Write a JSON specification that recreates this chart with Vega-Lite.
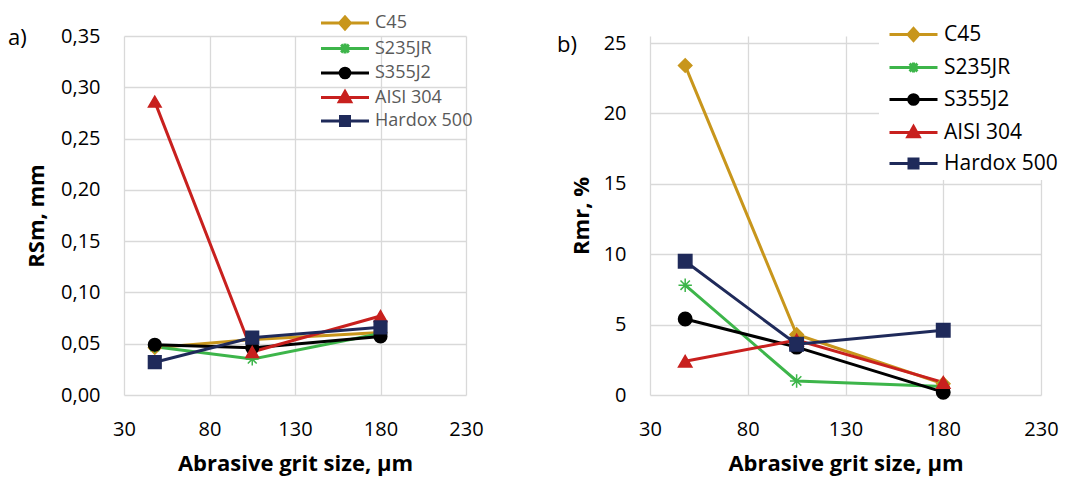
{
  "$schema": "https://vega.github.io/schema/vega-lite/v6.json",
  "background": "white",
  "padding": {"left": 8, "top": 14, "right": 0, "bottom": 3},
  "config": {
    "font": "Open Sans",
    "view": {"stroke": null},
    "axis": {"domain": false, "ticks": false, "gridColor": "#d9d9d9", "gridWidth": 1.3, "labelColor": "#000000", "labelFontSize": 20, "titleFontSize": 22, "titleFontWeight": "bold", "titleColor": "#000000", "labelFont": "Open Sans", "titleFont": "Open Sans"},
    "axisX": {"labelFlush": false},
    "title": {"fontSize": 22, "fontWeight": "normal", "color": "#000000", "font": "Open Sans"}
  },
  "datasets": {
    "rsm": [
      {"material": "C45", "grit": 48, "value": 0.046},
      {"material": "C45", "grit": 105, "value": 0.054},
      {"material": "C45", "grit": 180, "value": 0.061},
      {"material": "S235JR", "grit": 48, "value": 0.047},
      {"material": "S235JR", "grit": 105, "value": 0.035},
      {"material": "S235JR", "grit": 180, "value": 0.060},
      {"material": "S355J2", "grit": 48, "value": 0.049},
      {"material": "S355J2", "grit": 105, "value": 0.046},
      {"material": "S355J2", "grit": 180, "value": 0.057},
      {"material": "AISI 304", "grit": 48, "value": 0.286},
      {"material": "AISI 304", "grit": 105, "value": 0.042},
      {"material": "AISI 304", "grit": 180, "value": 0.077},
      {"material": "Hardox 500", "grit": 48, "value": 0.032},
      {"material": "Hardox 500", "grit": 105, "value": 0.056},
      {"material": "Hardox 500", "grit": 180, "value": 0.066}
    ],
    "rmr": [
      {"material": "C45", "grit": 48, "value": 23.4},
      {"material": "C45", "grit": 105, "value": 4.3},
      {"material": "C45", "grit": 180, "value": 0.8},
      {"material": "S235JR", "grit": 48, "value": 7.8},
      {"material": "S235JR", "grit": 105, "value": 1.0},
      {"material": "S235JR", "grit": 180, "value": 0.6},
      {"material": "S355J2", "grit": 48, "value": 5.4},
      {"material": "S355J2", "grit": 105, "value": 3.4},
      {"material": "S355J2", "grit": 180, "value": 0.2},
      {"material": "AISI 304", "grit": 48, "value": 2.4},
      {"material": "AISI 304", "grit": 105, "value": 3.9},
      {"material": "AISI 304", "grit": 180, "value": 0.9},
      {"material": "Hardox 500", "grit": 48, "value": 9.5},
      {"material": "Hardox 500", "grit": 105, "value": 3.6},
      {"material": "Hardox 500", "grit": 180, "value": 4.6}
    ]
  },
  "spacing": 73,
  "resolve": {"scale": {"color": "independent", "shape": "independent", "stroke": "independent"}},
  "hconcat": [
    {
      "width": 342,
      "height": 359,
      "title": {"text": "a)", "anchor": "start", "frame": "group", "dx": -116, "dy": 40},
      "data": {"name": "rsm"},
      "encoding": {
        "x": {"field": "grit", "type": "quantitative", "scale": {"domain": [30, 230], "nice": false}, "axis": {"values": [30, 80, 130, 180, 230], "title": "Abrasive grit size, µm", "labelPadding": 24, "titlePadding": 14}},
        "y": {"field": "value", "type": "quantitative", "scale": {"domain": [0, 0.35], "nice": false}, "axis": {"values": [0, 0.05, 0.1, 0.15, 0.2, 0.25, 0.3, 0.35], "labelExpr": "replace(format(datum.value, '.2f'), '.', ',')", "title": "RSm, mm", "labelPadding": 24, "titlePadding": 12}}
      },
      "resolve": {"scale": {"color": "independent", "shape": "independent", "stroke": "independent"}},
      "layer": [
        {"mark": {"type": "line", "strokeWidth": 3},
          "encoding": {"color": {"field": "material", "type": "nominal", "scale": {"domain": ["C45", "S235JR", "S355J2", "AISI 304", "Hardox 500"], "range": ["#C8961C", "#3DB54A", "#000000", "#C8201E", "#1F2A5A"]}, "legend": null}}},
        {"mark": {"type": "point", "filled": true, "opacity": 1, "strokeWidth": 1.5, "size": 160},
          "encoding": {
            "shape": {"field": "material", "type": "nominal", "scale": {"domain": ["C45", "S235JR", "S355J2", "AISI 304", "Hardox 500"], "range": ["diamond", "M-1,0L1,0M0,-1L0,1M-0.7,-0.7L0.7,0.7M-0.7,0.7L0.7,-0.7", "circle", "triangle-up", "square"]}, "legend": null},
            "stroke": {"field": "material", "type": "nominal", "scale": {"domain": ["C45", "S235JR", "S355J2", "AISI 304", "Hardox 500"], "range": ["#C8961C", "#3DB54A", "#000000", "#C8201E", "#1F2A5A"]}, "legend": null},
            "color": {"field": "material", "type": "nominal", "scale": {"domain": ["C45", "S235JR", "S355J2", "AISI 304", "Hardox 500"], "range": ["#C8961C", "#3DB54A", "#000000", "#C8201E", "#1F2A5A"]}, "legend": null}
          }},
        {"mark": {"type": "point", "filled": true, "opacity": 0, "strokeWidth": 3, "size": 144},
          "encoding": {
            "shape": {"field": "material", "type": "nominal", "scale": {"domain": ["C45", "S235JR", "S355J2", "AISI 304", "Hardox 500"], "range": ["M-1,0L7,0M3,-1L3.9,0L3,1L2.1,0Z", "M-1,0L7,0M3,-0.85L3,0.85M2.35,-0.65L3.65,0.65M2.35,0.65L3.65,-0.65", "M-1,0L7,0M2.2,0A0.8,0.8,0,1,0,3.8,0A0.8,0.8,0,1,0,2.2,0Z", "M-1,0L7,0M3,-1L3.95,0.7L2.05,0.7Z", "M-1,0L7,0M2.25,-0.75L3.75,-0.75L3.75,0.75L2.25,0.75Z"]},
              "legend": {"orient": "none", "legendX": 194, "legendY": -22, "title": null, "labelFontSize": 18, "labelColor": "#595959", "labelFont": "Open Sans", "symbolSize": 144, "symbolStrokeWidth": 3, "symbolOpacity": 1, "rowPadding": 1.5, "labelOffset": 39, "padding": 0}},
            "stroke": {"field": "material", "type": "nominal", "scale": {"domain": ["C45", "S235JR", "S355J2", "AISI 304", "Hardox 500"], "range": ["#C8961C", "#3DB54A", "#000000", "#C8201E", "#1F2A5A"]},
              "legend": {"orient": "none", "legendX": 194, "legendY": -22, "title": null, "labelFontSize": 18, "labelColor": "#595959", "labelFont": "Open Sans", "symbolSize": 144, "symbolStrokeWidth": 3, "symbolOpacity": 1, "rowPadding": 1.5, "labelOffset": 39, "padding": 0}},
            "color": {"field": "material", "type": "nominal", "scale": {"domain": ["C45", "S235JR", "S355J2", "AISI 304", "Hardox 500"], "range": ["#C8961C", "#3DB54A", "#000000", "#C8201E", "#1F2A5A"]},
              "legend": {"orient": "none", "legendX": 194, "legendY": -22, "title": null, "labelFontSize": 18, "labelColor": "#595959", "labelFont": "Open Sans", "symbolSize": 144, "symbolStrokeWidth": 3, "symbolOpacity": 1, "rowPadding": 1.5, "labelOffset": 39, "padding": 0}}
          }}
      ]
    },
    {
      "width": 391,
      "height": 359,
      "title": {"text": "b)", "anchor": "start", "frame": "group", "dx": -93, "dy": 43},
      "data": {"name": "rmr"},
      "encoding": {
        "x": {"field": "grit", "type": "quantitative", "scale": {"domain": [30, 230], "nice": false}, "axis": {"values": [30, 80, 130, 180, 230], "title": "Abrasive grit size, µm", "labelPadding": 24, "titlePadding": 14}},
        "y": {"field": "value", "type": "quantitative", "scale": {"domain": [0, 25.5], "nice": false}, "axis": {"values": [0, 5, 10, 15, 20, 25], "title": "Rmr, %", "labelPadding": 24, "titlePadding": 10}}
      },
      "resolve": {"scale": {"color": "independent", "shape": "independent", "stroke": "independent"}},
      "layer": [
        {"mark": {"type": "line", "strokeWidth": 3},
          "encoding": {"color": {"field": "material", "type": "nominal", "scale": {"domain": ["C45", "S235JR", "S355J2", "AISI 304", "Hardox 500"], "range": ["#C8961C", "#3DB54A", "#000000", "#C8201E", "#1F2A5A"]}, "legend": null}}},
        {"mark": {"type": "point", "filled": true, "opacity": 1, "strokeWidth": 1.5, "size": 180},
          "encoding": {
            "shape": {"field": "material", "type": "nominal", "scale": {"domain": ["C45", "S235JR", "S355J2", "AISI 304", "Hardox 500"], "range": ["diamond", "M-1,0L1,0M0,-1L0,1M-0.7,-0.7L0.7,0.7M-0.7,0.7L0.7,-0.7", "circle", "triangle-up", "square"]}, "legend": null},
            "stroke": {"field": "material", "type": "nominal", "scale": {"domain": ["C45", "S235JR", "S355J2", "AISI 304", "Hardox 500"], "range": ["#C8961C", "#3DB54A", "#000000", "#C8201E", "#1F2A5A"]}, "legend": null},
            "color": {"field": "material", "type": "nominal", "scale": {"domain": ["C45", "S235JR", "S355J2", "AISI 304", "Hardox 500"], "range": ["#C8961C", "#3DB54A", "#000000", "#C8201E", "#1F2A5A"]}, "legend": null}
          }},
        {"mark": {"type": "point", "filled": true, "opacity": 0, "strokeWidth": 3, "size": 144},
          "encoding": {
            "shape": {"field": "material", "type": "nominal", "scale": {"domain": ["C45", "S235JR", "S355J2", "AISI 304", "Hardox 500"], "range": ["M-1,0L7,0M3,-1L3.9,0L3,1L2.1,0Z", "M-1,0L7,0M3,-0.85L3,0.85M2.35,-0.65L3.65,0.65M2.35,0.65L3.65,-0.65", "M-1,0L7,0M2.2,0A0.8,0.8,0,1,0,3.8,0A0.8,0.8,0,1,0,2.2,0Z", "M-1,0L7,0M3,-1L3.95,0.7L2.05,0.7Z", "M-1,0L7,0M2.25,-0.75L3.75,-0.75L3.75,0.75L2.25,0.75Z"]},
              "legend": {"orient": "none", "legendX": 229, "legendY": -18, "title": null, "labelFontSize": 21, "labelColor": "#000000", "labelFont": "Open Sans", "symbolSize": 144, "symbolStrokeWidth": 3, "symbolOpacity": 1, "rowPadding": 9, "labelOffset": 38, "padding": 6, "fillColor": "white"}},
            "stroke": {"field": "material", "type": "nominal", "scale": {"domain": ["C45", "S235JR", "S355J2", "AISI 304", "Hardox 500"], "range": ["#C8961C", "#3DB54A", "#000000", "#C8201E", "#1F2A5A"]},
              "legend": {"orient": "none", "legendX": 229, "legendY": -18, "title": null, "labelFontSize": 21, "labelColor": "#000000", "labelFont": "Open Sans", "symbolSize": 144, "symbolStrokeWidth": 3, "symbolOpacity": 1, "rowPadding": 9, "labelOffset": 38, "padding": 6, "fillColor": "white"}},
            "color": {"field": "material", "type": "nominal", "scale": {"domain": ["C45", "S235JR", "S355J2", "AISI 304", "Hardox 500"], "range": ["#C8961C", "#3DB54A", "#000000", "#C8201E", "#1F2A5A"]},
              "legend": {"orient": "none", "legendX": 229, "legendY": -18, "title": null, "labelFontSize": 21, "labelColor": "#000000", "labelFont": "Open Sans", "symbolSize": 144, "symbolStrokeWidth": 3, "symbolOpacity": 1, "rowPadding": 9, "labelOffset": 38, "padding": 6, "fillColor": "white"}}
          }}
      ]
    }
  ]
}
